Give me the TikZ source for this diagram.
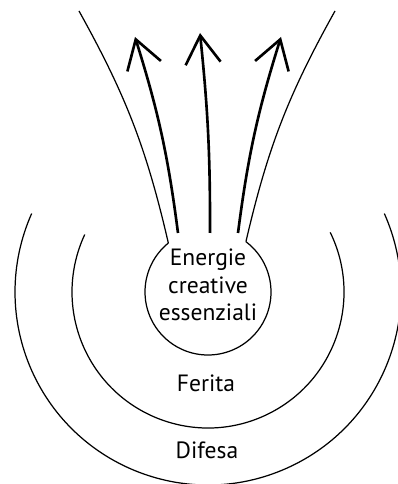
\documentclass[tikz,border=0pt]{standalone}
\usepackage{fontspec}
\setmainfont{PT Sans}
\usetikzlibrary{arrows.meta,calc}

\tikzset{
  ring/.style={line width=0.7pt},
  flow/.style={line width=1.5pt,-{Straight Barb[length=16pt,width=20pt]}},
  tag/.style={font=\fontsize{13.4}{15.6}\selectfont},
}

\begin{document}
\begin{tikzpicture}[x=.02cm,y=.02cm]
\useasboundingbox (0,0) rectangle (397,484);

\coordinate (C) at (208,192);
\coordinate (P1) at ($(C)+(129:63)$);
\coordinate (P2) at ($(C)+(53:63)$);
\coordinate (S1) at (178,251);
\coordinate (S2) at (210,251);
\coordinate (S3) at (238,251);
\coordinate (T1) at (135,447);
\coordinate (T2) at (200,451);
\coordinate (T3) at (281,447);
\coordinate (L) at (79,473);
\coordinate (R) at (335,473);

% The core, open at the top.
\node[tag,align=center,inner sep=0pt] (core) at (208,199) {Energie\\creative\\essenziali};
\draw[ring] (P2) arc[start angle=53,end angle=-231,radius=63];
\draw[ring] (P1) to[bend right=8] (L);
\draw[ring] (P2) to[bend left=8] (R);

% Wound and defence.
\draw[ring] ($(C)+(26:136)$) arc[start angle=26,end angle=-205,radius=136];
\draw[ring] ($(C)+(24:193)$) arc[start angle=24,end angle=-204,radius=193];

\node[tag,anchor=base] (ferita) at (206,92) {Ferita};
\node[tag,anchor=base] (difesa) at (207,26) {Difesa};

\draw[flow] (S1) to[bend right=5] (T1);
\draw[flow] (S2) to[bend right=3] (T2);
\draw[flow] (S3) to[bend left=5] (T3);

\end{tikzpicture}
\end{document}
